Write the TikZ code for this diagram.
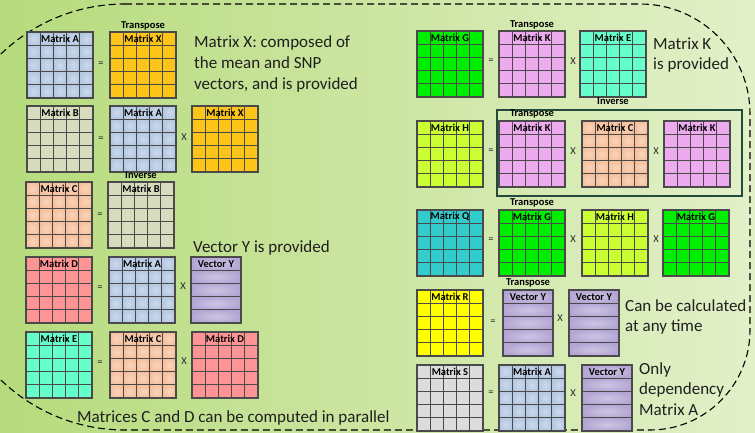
\documentclass[tikz,border=0pt]{standalone}
\usepackage{fontspec}
\setmainfont{Carlito}
\usetikzlibrary{calc}

\definecolor{bgL}{HTML}{B6DB7C}
\definecolor{bgR}{HTML}{E2F0C8}
\definecolor{gridc}{HTML}{4A4A4A}
\definecolor{cA}{HTML}{B4C8E2}
\definecolor{cX}{HTML}{FDC51A}
\definecolor{cB}{HTML}{D7DCBF}
\definecolor{cC}{HTML}{F6C09C}
\definecolor{cD}{HTML}{FF9494}
\definecolor{cE}{HTML}{66FFCC}
\definecolor{cY}{HTML}{B4A6D4}
\definecolor{cG}{HTML}{00EE00}
\definecolor{cK}{HTML}{EEAAEE}
\definecolor{cH}{HTML}{CCFF33}
\definecolor{cQ}{HTML}{33CCCC}
\definecolor{cR}{HTML}{FFFF00}
\definecolor{cS}{HTML}{DCDCDC}
\definecolor{boxc}{HTML}{234A3A}

\tikzset{
  matbox/.style={anchor=north west, minimum width=66pt, minimum height=66pt,
    inner sep=0pt, outer sep=0pt, draw=gridc, line width=1.2pt},
  vecbox/.style={anchor=north west, minimum width=50pt, minimum height=66pt,
    inner sep=0pt, outer sep=0pt, draw=gridc, line width=1.2pt},
  gridln/.style={draw=gridc, line width=1.2pt},
  hdr/.style={font=\bfseries\fontsize{10.5}{12}\selectfont, inner sep=0pt, text=black},
  opname/.style={font=\fontsize{10.5}{12}\selectfont, inner sep=0pt, text=black!85},
  bigtxt/.style={font=\fontsize{17}{20.7}\selectfont, align=left, anchor=west,
    inner sep=0pt, text=black!88},
  border/.style={draw=black, line width=1.1pt, dash pattern=on 7pt off 4pt},
  groupbox/.style={draw=boxc, line width=1.1pt}
}

% grid lines and header of a 5x5 matrix node
\newcommand{\matgrid}[2]{%
  \foreach \k in {1,2,3,4}{%
    \draw[gridln] ($(#1.north west)+(\k*13.2,0)$) -- ($(#1.south west)+(\k*13.2,0)$);
    \draw[gridln] ($(#1.north west)+(0,\k*13.2)$) -- ($(#1.north east)+(0,\k*13.2)$);
  }
  \draw[gridln] (#1.north west) rectangle (#1.south east);
  \node[hdr] (#1-h) at ($(#1.north)+(0,6.8)$) {#2};
}
% a flat 5x5 matrix
\newcommand{\drawmat}[5]{%
  \node[matbox, fill=#4] (#1) at (#2,#3) {};
  \matgrid{#1}{#5}
}
% a 5x5 matrix whose cells have a soft light centre
\newcommand{\drawglowmat}[5]{%
  \node[matbox, fill=#4] (#1) at (#2,#3) {};
  \foreach \i in {0,...,4}{\foreach \j in {0,...,4}{%
    \shade[inner color=#4!68!white, outer color=#4]
      ($(#1.north west)+(\i*13.2,\j*13.2)$) rectangle ++(13.2,13.2);
  }}
  \matgrid{#1}{#5}
}
% a column vector drawn as stacked rows
\newcommand{\drawvector}[4]{%
  \node[vecbox, fill=cY] (#1) at (#2,#3) {};
  \foreach \j in {0,...,4}{%
    \shade[inner color=cY!65!white, outer color=cY]
      ($(#1.north west)+(0,\j*13.2)$) rectangle ++(50,13.2);
  }
  \foreach \k in {1,2,3,4}{%
    \draw[gridln] ($(#1.north west)+(0,\k*13.2)$) -- ($(#1.north east)+(0,\k*13.2)$);
  }
  \draw[gridln] (#1.north west) rectangle (#1.south east);
  \node[hdr] (#1-h) at ($(#1.north)+(0,6.8)$) {#4};
}

\begin{document}
\begin{tikzpicture}[x=1pt, y=-1pt]
\useasboundingbox (0,0) rectangle (755,433);
\shade[left color=bgL, right color=bgR] (0,0) rectangle (755,433);

% dashed outline around everything
\begin{scope}
\clip (0,0) rectangle (755,433);
\draw[border] (125,4) -- (640,4) arc[start angle=-90, end angle=0, radius=110]
  -- (750,330) arc[start angle=0, end angle=90, radius=100]
  -- (125,430) arc[start angle=90, end angle=180, radius=179]
  -- (-54,183) arc[start angle=180, end angle=270, radius=179] -- cycle;
\end{scope}

% ---------- left column ----------
% A = X^T
\drawglowmat{A1}{27}{32}{cA}{Matrix A}
\drawmat{X1}{110}{32}{cX}{Matrix X}
\node[hdr] (X1-t) at ($(X1.north)+(0,-6.5)$) {Transpose};
\node[opname] (eq1) at (101,64) {=};
\node[bigtxt] (note1) at (194,64) {Matrix X: composed of\\the mean and SNP\\vectors, and is provided};

% B = A X
\drawmat{B2}{27}{106}{cB}{Matrix B}
\drawglowmat{A2}{110}{106}{cA}{Matrix A}
\drawmat{X2}{192}{106}{cX}{Matrix X}
\node[opname] (eq2) at (101,139) {=};
\node[opname] (m2) at (184,137) {X};

% C = B^-1
\drawglowmat{C3}{26}{182}{cC}{Matrix C}
\drawmat{B3}{108}{182}{cB}{Matrix B}
\node[hdr] (B3-t) at ($(B3.north)+(0,-6.5)$) {Inverse};
\node[opname] (eq3) at (100,215) {=};
\node[bigtxt] (note2) at (193,248) {Vector Y is provided};

% D = A Y
\drawmat{D4}{26}{257}{cD}{Matrix D}
\drawglowmat{A4}{109}{257}{cA}{Matrix A}
\drawvector{Y4}{191}{257}{Vector Y}
\node[opname] (eq4) at (100,288) {=};
\node[opname] (m4) at (183,286) {X};

% E = C D
\drawmat{E5}{26}{332}{cE}{Matrix E}
\drawglowmat{C5}{110}{332}{cC}{Matrix C}
\drawmat{D5}{192}{332}{cD}{Matrix D}
\node[opname] (eq5) at (100,363) {=};
\node[opname] (m5) at (184,361) {X};
\node[bigtxt] (note3) at (77,418) {Matrices C and D can be computed in parallel};

% ---------- right column ----------
% G = K^T E^-1
\drawmat{G1}{417}{31}{cG}{Matrix G}
\drawmat{K1}{499}{31}{cK}{Matrix K}
\node[hdr] (K1-t) at ($(K1.north)+(0,-6.5)$) {Transpose};
\drawmat{E1}{580}{31}{cE}{Matrix E}
\node[hdr] (E1-t) at ($(E1.south)+(0,4)$) {Inverse};
\node[opname] (eq6) at (491,61) {=};
\node[opname] (m6) at (573,61) {X};
\node[bigtxt] (note4) at (653,55) {Matrix K\\is provided};

% H = K^T C K
\draw[groupbox] (497,110) rectangle (742,196);
\drawmat{H2}{417}{121}{cH}{Matrix H}
\drawmat{K2}{499}{121}{cK}{Matrix K}
\node[hdr] (K2-t) at ($(K2.north)+(0,-7)$) {Transpose};
\drawglowmat{C2}{582}{121}{cC}{Matrix C}
\drawmat{K2b}{664}{121}{cK}{Matrix K}
\node[opname] (eq7) at (491,151) {=};
\node[opname] (m7) at (573,151) {X};
\node[opname] (m7b) at (656,151) {X};

% Q = G^T H G
\drawmat{Q3}{417}{210}{cQ}{Matrix Q}
\drawmat{G3}{499}{210}{cG}{Matrix G}
\node[hdr] (G3-t) at ($(G3.north)+(0,-7)$) {Transpose};
\drawmat{H3}{582}{210}{cH}{Matrix H}
\drawmat{G3b}{663}{210}{cG}{Matrix G}
\node[opname] (eq8) at (491,240) {=};
\node[opname] (m8) at (573,239) {X};
\node[opname] (m8b) at (656,239) {X};

% R = Y^T Y
\drawmat{R4}{417}{290}{cR}{Matrix R}
\drawvector{Y4a}{503}{290}{Vector Y}
\node[hdr] (Y4a-t) at ($(Y4a.north)+(0,-7)$) {Transpose};
\drawvector{Y4b}{569}{290}{Vector Y}
\node[opname] (eq9) at (493,322) {=};
\node[opname] (m9) at (560,318) {X};
\node[bigtxt] (note5) at (625,317) {Can be calculated\\at any time};

% S = A Y
\drawmat{S5}{417}{365}{cS}{Matrix S}
\drawglowmat{A5}{499}{365}{cA}{Matrix A}
\drawvector{Y5}{582}{365}{Vector Y}
\node[opname] (eq10) at (491,393) {=};
\node[opname] (m10) at (573,393) {X};
\node[bigtxt] (note6) at (639,389) {Only\\dependency\\Matrix A};
\end{tikzpicture}
\end{document}
